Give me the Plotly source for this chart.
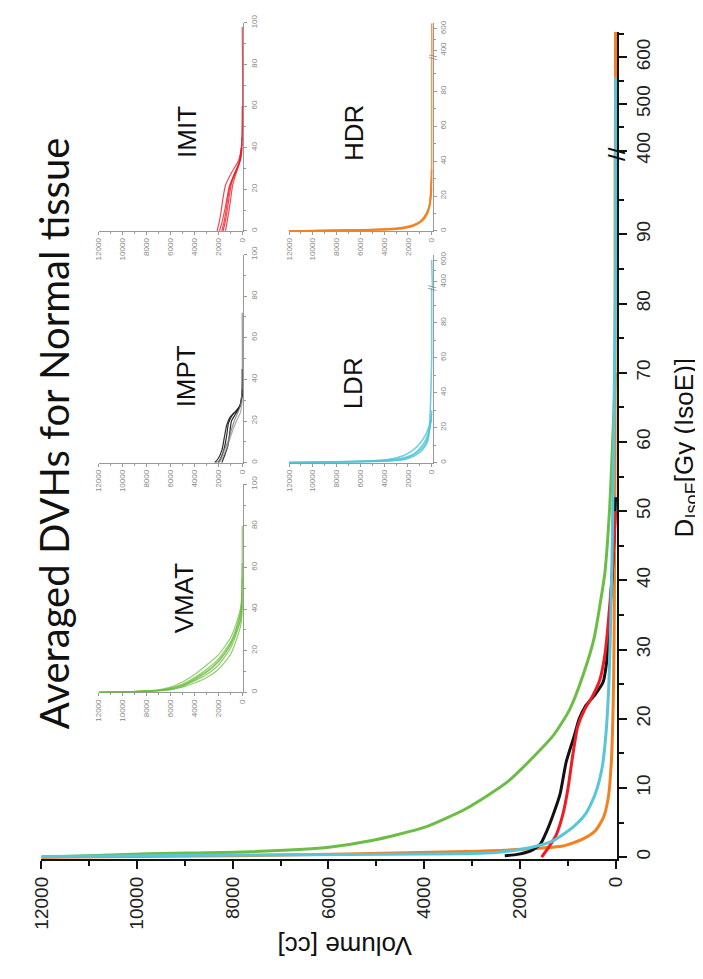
import plotly.graph_objects as go

W, H = 703, 979

# ---------------- data (volume [cc], dose [Gy(IsoE)]) ----------------
VMAT_V = [12000, 9766, 7797, 6030, 5096, 4000, 3127, 2254, 1300, 955, 650, 447, 325, 223, 122, 61, 20, 0]
VMAT_D = [0, 0.5, 0.75, 1.4, 2.4, 4.3, 7.0, 10.9, 17.6, 21.4, 26.9, 31.7, 36.5, 41.1, 50.6, 60.1, 67, 70]

IMPT_V = [2315, 2050, 1770, 1570, 1435, 1300, 1160, 1030, 860, 760, 630, 426, 260, 190, 150, 120, 60, 20, 0]
IMPT_D = [0.2, 0.4, 0.9, 1.9, 3.8, 6.2, 9.1, 13.8, 17.6, 20.0, 21.8, 23.5, 25.3, 28, 31.7, 35, 42, 48, 52]

IMIT_V = [1545, 1400, 1235, 1100, 995, 895, 790, 650, 487, 330, 220, 150, 80, 30, 0]
IMIT_D = [0, 1.4, 3.3, 6.2, 9.9, 14.7, 18.9, 21.3, 23.2, 25.6, 29.4, 34.1, 40, 46, 50]

LDR_V = [12000, 7800, 3127, 2450, 1770, 1300, 895, 630, 426, 284, 203, 142, 110, 70, 40, 15, 0, 0]
LDR_D = [0.1, 0.3, 0.5, 0.7, 1.4, 2.4, 4.3, 6.2, 9.1, 12.8, 17.6, 24.6, 31.7, 45, 60, 75, 85, 558]

HDR_V = [12000, 8000, 3127, 1770, 1100, 690, 426, 254, 152, 88, 50, 30, 20, 10, 0]
HDR_D = [0, 0.2, 0.8, 1.2, 1.6, 2.6, 3.8, 5.7, 8.6, 13.8, 22, 31.7, 45, 60, 655]

# inset (individual) curves
VMAT_IN_V = [[12000, 9000, 7000, 6000, 5000, 4000, 3000, 2000, 1000, 500, 100, 0]] * 6
VMAT_IN_D = [[0, 0.3, 0.8, 1.5, 3, 5.5, 8.5, 13, 21, 28, 37, 48],
             [0, 0.4, 1.0, 2.0, 4, 7, 11, 16, 24, 31, 40, 55],
             [0, 0.3, 0.7, 1.2, 2.5, 4.5, 7, 11, 18, 25, 33, 42],
             [0, 0.5, 1.2, 2.5, 5, 8.5, 13, 18, 26, 33, 42, 80],
             [0, 0.4, 0.9, 1.8, 3.5, 6, 9.5, 14.5, 22.5, 30, 39, 62],
             [0, 0.3, 0.9, 1.6, 3.2, 6.5, 10, 15, 23, 29, 35, 45]]

IMPT_IN_V = [[2300, 2000, 1700, 1500, 1300, 1000, 500, 150, 0],
             [2000, 1800, 1500, 1300, 1150, 800, 300, 50, 0],
             [1700, 1500, 1200, 1050, 900, 600, 200, 0],
             [2200, 1900, 1600, 1200, 900, 600, 300, 100, 0, 0],
             [1900, 1600, 1300, 1000, 700, 400, 150, 0]]
IMPT_IN_D = [[0, 2, 6, 12, 18, 22, 25, 28, 35],
             [0, 2, 7, 13, 19, 23, 26, 30, 45],
             [0, 3, 8, 14, 20, 23, 27, 33],
             [0, 1, 5, 10, 16, 21, 25, 29, 40, 72],
             [0, 3, 7, 12, 17, 21, 24, 30]]
IMPT_IN_C = ["rgba(20,20,20,0.9)", "rgba(20,20,20,0.9)", "rgba(20,20,20,0.9)",
             "rgba(120,120,120,0.8)", "rgba(150,150,150,0.8)"]

IMIT_IN_V = [[2100, 1900, 1750, 1600, 1400, 900, 300, 0],
             [1700, 1500, 1350, 1200, 1000, 600, 200, 0],
             [1400, 1250, 1100, 950, 800, 500, 150, 0],
             [1900, 1700, 1500, 1300, 1100, 700, 250, 0, 0],
             [1600, 1400, 1200, 1050, 850, 400, 100, 0]]
IMIT_IN_D = [[0, 5, 10, 16, 22, 28, 34, 42],
             [0, 5, 10, 16, 22, 28, 34, 45],
             [0, 5, 10, 16, 22, 28, 34, 40],
             [0, 4, 9, 15, 21, 27, 33, 45, 98],
             [0, 5, 12, 18, 24, 30, 36, 60]]

LDR_IN_V = [[12000, 6000, 3000, 2000, 1200, 600, 300, 100, 0],
            [12000, 5000, 2500, 1500, 900, 500, 200, 0],
            [12000, 7000, 3500, 2200, 1400, 700, 300, 0, 0],
            [12000, 4000, 2400, 1600, 1000, 500, 150, 0]]
LDR_IN_D = [[0, 0.5, 1.5, 3, 6, 10, 15, 22, 30],
            [0, 1, 2.5, 5, 9, 13, 19, 28],
            [0, 0.4, 1, 2, 4, 8, 13, 60, 600],
            [0, 1.5, 4, 7, 11, 16, 22, 25]]

HDR_IN_V = [[12000, 6000, 3000, 2000, 1200, 600, 300, 100, 0],
            [12000, 8000, 4000, 2500, 1500, 800, 400, 150, 0],
            [12000, 7000, 3500, 2000, 1000, 500, 200, 50, 0, 0],
            [12000, 5000, 2500, 1500, 900, 450, 180, 0]]
HDR_IN_D = [[0, 0.5, 1, 2, 4, 7, 11, 17, 25],
            [0, 0.3, 0.8, 1.5, 3, 6, 10, 16, 30],
            [0, 0.5, 1.2, 2.5, 5, 9, 14, 22, 40, 650],
            [0, 0.8, 1.8, 3.5, 6, 10, 15, 35]]

VOL_TICKS = [0, 2000, 4000, 6000, 8000, 10000, 12000]
VOL_TICK_TEXT = ["0", "2000", "4000", "6000", "8000", "10000", "12000"]
DOSE_TICKS = [0, 10, 20, 30, 40, 50, 60, 70, 80, 90]
DOSE_TICKS_HI = [400, 500, 600]
INSET_DOSE_TICKS = [0, 20, 40, 60, 80, 100]
INSET_DOSE_TICKS_LO = [0, 20, 40, 60, 80]
INSET_DOSE_TICKS_HI = [400, 600]

GREEN = "#6cbd45"
BLACK = "#111111"
RED = "#ee1c25"
CYAN = "#57c5da"
ORANGE = "#f4811f"


def px(x):
    return x / W


def py(y):
    return 1 - y / H


fig = go.Figure()


def add_line(v, d, xa, yas, color, width, smoothing=0.6):
    for ya in yas:
        fig.add_trace(go.Scatter(x=v, y=d, xaxis=xa, yaxis=ya, mode="lines",
                                 line=dict(color=color, width=width, shape="spline", smoothing=smoothing),
                                 hoverinfo="skip", showlegend=False))


# ---------------- insets ----------------
for v, d in zip(VMAT_IN_V, VMAT_IN_D):
    add_line(v, d, "x2", ["y3"], "rgba(106,190,60,0.75)", 1.2)
for v, d, c in zip(IMPT_IN_V, IMPT_IN_D, IMPT_IN_C):
    add_line(v, d, "x3", ["y4"], c, 1.2)
for v, d in zip(IMIT_IN_V, IMIT_IN_D):
    add_line(v, d, "x4", ["y5"], "rgba(236,30,40,0.8)", 1.2)
for v, d in zip(LDR_IN_V, LDR_IN_D):
    add_line(v, d, "x5", ["y6", "y7"], "rgba(80,195,215,0.8)", 1.6)
for v, d in zip(HDR_IN_V, HDR_IN_D):
    add_line(v, d, "x6", ["y8", "y9"], "rgba(244,129,31,0.8)", 1.6)

# ---------------- main curves ----------------
add_line(VMAT_V, VMAT_D, "x", ["y", "y2"], GREEN, 3)
add_line(HDR_V, HDR_D, "x", ["y", "y2"], ORANGE, 3)
add_line(IMPT_V, IMPT_D, "x", ["y", "y2"], BLACK, 3)
add_line(IMIT_V, IMIT_D, "x", ["y", "y2"], RED, 3)
add_line(LDR_V, LDR_D, "x", ["y", "y2"], CYAN, 3)

FONT = "Arial, Liberation Sans, sans-serif"

main_common = dict(ticks="outside", ticklen=8, tickwidth=2, tickcolor="#111", showline=True,
                   linecolor="#111", linewidth=2, showgrid=False, zeroline=False, tickangle=-90,
                   tickfont=dict(family=FONT, size=19, color="#222"), layer="below traces")

inset_common = dict(ticks="outside", ticklen=3, tickwidth=1, tickcolor="#999", showline=True,
                    linecolor="#999", linewidth=1, showgrid=False, zeroline=False, tickangle=-90,
                    tickfont=dict(family=FONT, size=8, color="#888"), layer="below traces")


def inset_x(x0, x1, anchor):
    return dict(domain=[px(x0), px(x1)], range=[12000, -100], anchor=anchor,
                tickmode="array", tickvals=VOL_TICKS, ticktext=VOL_TICK_TEXT,
                minor=dict(tickvals=[1000, 3000, 5000, 7000, 9000, 11000], ticks="outside",
                           ticklen=2, tickwidth=1, tickcolor="#999"),
                **inset_common)


def inset_y(y0, y1, rng, tv, mv, anchor):
    return dict(domain=[py(y0), py(y1)], range=rng, anchor=anchor, side="right",
                tickmode="array", tickvals=tv, ticktext=[str(t) for t in tv],
                minor=dict(tickvals=mv, ticks="outside", ticklen=2, tickwidth=1, tickcolor="#999"),
                **inset_common)


C1 = (82, 231)
C2 = (278, 426)
minor_100 = [10, 30, 50, 70, 90]

layout = dict(
    width=W, height=H, margin=dict(l=0, r=0, t=0, b=0),
    paper_bgcolor="white", plot_bgcolor="white", showlegend=False,
    xaxis=dict(domain=[px(23), px(615.5)], range=[12000, -30], anchor="y",
               tickmode="array", tickvals=VOL_TICKS, ticktext=VOL_TICK_TEXT,
               minor=dict(tickvals=[1000, 3000, 5000, 7000, 9000, 11000], ticks="outside",
                          ticklen=5, tickwidth=2, tickcolor="#111"),
               **main_common),
    yaxis=dict(domain=[py(859), py(140)], range=[-0.3, 101.7], anchor="x", side="right",
               tickmode="array", tickvals=DOSE_TICKS, ticktext=[str(t) for t in DOSE_TICKS],
               minor=dict(tickvals=[5, 15, 25, 35, 45, 55, 65, 75, 85, 95], ticks="outside",
                          ticklen=5, tickwidth=2, tickcolor="#111"),
               **main_common),
    yaxis2=dict(domain=[py(140), py(16)], range=[394, 655], anchor="x", side="right",
                tickmode="array", tickvals=DOSE_TICKS_HI, ticktext=[str(t) for t in DOSE_TICKS_HI],
                minor=dict(tickvals=[450, 550, 650], ticks="outside", ticklen=5, tickwidth=2,
                           tickcolor="#111"),
                **main_common),
    # VMAT
    xaxis2=inset_x(*C1, "y3"),
    yaxis3=inset_y(689, 477, [0, 100], INSET_DOSE_TICKS, minor_100, "x2"),
    # IMPT
    xaxis3=inset_x(*C1, "y4"),
    yaxis4=inset_y(455, 243, [0, 100], INSET_DOSE_TICKS, minor_100, "x3"),
    # IMIT
    xaxis4=inset_x(*C1, "y5"),
    yaxis5=inset_y(219, 7, [0, 100], INSET_DOSE_TICKS, minor_100, "x4"),
    # LDR
    xaxis5=inset_x(*C2, "y6"),
    yaxis6=inset_y(455, 277, [0, 100], INSET_DOSE_TICKS_LO, minor_100, "x5"),
    yaxis7=inset_y(277, 243, [345, 650], INSET_DOSE_TICKS_HI, [500], "x5"),
    # HDR
    xaxis6=inset_x(*C2, "y8"),
    yaxis8=inset_y(219, 41, [0, 100], INSET_DOSE_TICKS_LO, minor_100, "x6"),
    yaxis9=inset_y(41, 7.5, [345, 650], INSET_DOSE_TICKS_HI, [500], "x6"),
)
fig.update_layout(**layout)


def ann(text, x, y, size, angle=-90, family=FONT, color="#111"):
    fig.add_annotation(text=text, x=px(x), y=py(y), xref="paper", yref="paper",
                       xanchor="center", yanchor="middle", showarrow=False, textangle=angle,
                       font=dict(family=family, size=size, color=color))


ann("Averaged DVHs for Normal tissue", 36, 425, 40, family="Lato, Open Sans, sans-serif")
ann("Volume [cc]", 335, 948, 26, angle=180)
ann("D<sub>IsoE</sub>[Gy (IsoE)]", 686, 440, 26)
ann("VMAT", 170, 593, 26)
ann("IMPT", 172, 367, 26)
ann("IMIT", 173, 118, 26)
ann("LDR", 344, 374, 26)
ann("HDR", 345, 119, 26)
ann("//", 615, 141, 24)
ann("//", 426, 42, 10, color="#888")
ann("//", 426, 277, 10, color="#888")

fig.write_html("out.html")
